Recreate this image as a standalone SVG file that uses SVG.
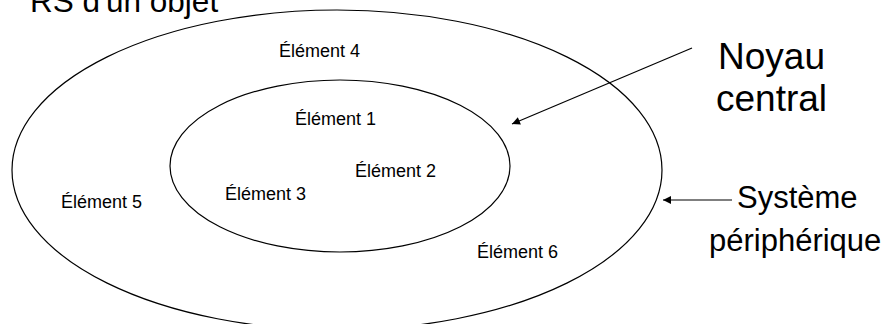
<svg xmlns="http://www.w3.org/2000/svg" width="889" height="324" viewBox="0 0 889 324">
<style>
.shape{fill:none;stroke:#000;stroke-width:1.2}
.el{font-family:"Liberation Sans",Arial,sans-serif;font-size:18px;fill:#000}
.big{font-family:"Liberation Sans",Arial,sans-serif;fill:#000}
.conn{stroke:#000;stroke-width:1.2;fill:none}
</style>
<defs>
<marker id="ah" viewBox="0 0 10 10" refX="10" refY="5" markerWidth="10" markerHeight="8" markerUnits="userSpaceOnUse" orient="auto">
<path d="M0,0 L10,5 L0,10 z" fill="#000"/>
</marker>
</defs>
<rect width="889" height="324" fill="#fff"/>
<text class="big" x="30" y="12" font-size="31.5">RS d'un objet</text>
<g id="systeme-peripherique">
<ellipse class="shape" cx="337" cy="170" rx="325" ry="160"/>
</g>
<g id="noyau-central">
<ellipse class="shape" cx="340" cy="166" rx="170" ry="86"/>
</g>
<g id="element4"><text class="el" x="279" y="57">Élément 4</text></g>
<g id="element1"><text class="el" x="295" y="125">Élément 1</text></g>
<g id="element2"><text class="el" x="355" y="177">Élément 2</text></g>
<g id="element3"><text class="el" x="225" y="200">Élément 3</text></g>
<g id="element5"><text class="el" x="61" y="208">Élément 5</text></g>
<g id="element6"><text class="el" x="477" y="258">Élément 6</text></g>
<g id="label-noyau">
<text class="big" font-size="37" x="718" y="69">Noyau</text>
<text class="big" font-size="37" x="716" y="111">central</text>
</g>
<g id="label-systeme">
<text class="big" font-size="31" x="737" y="208">Système</text>
<text class="big" font-size="31" x="709" y="251">périphérique</text>
</g>
<g id="connectors">
<line class="conn" x1="692" y1="48" x2="512" y2="124" marker-end="url(#ah)"/>
<line class="conn" x1="732" y1="200" x2="663" y2="200" marker-end="url(#ah)"/>
</g>
</svg>
